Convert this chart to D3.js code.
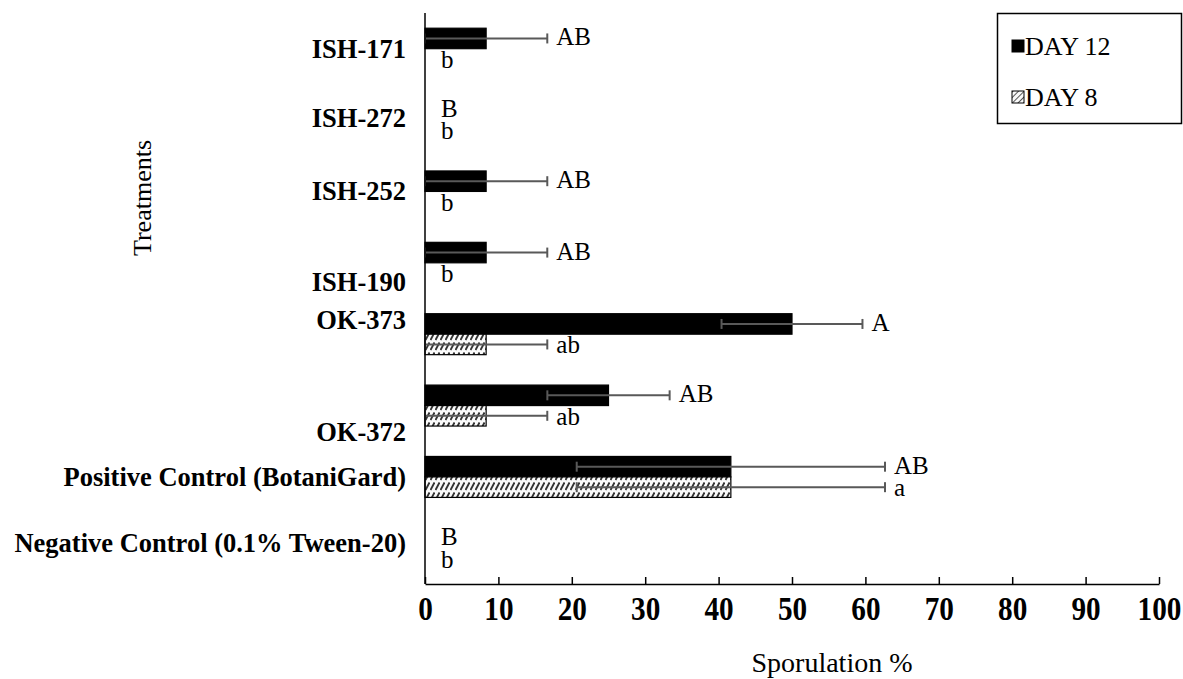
<!DOCTYPE html>
<html>
<head>
<meta charset="utf-8">
<script src="https://cdnjs.cloudflare.com/ajax/libs/d3/7.8.5/d3.min.js"></script>
<style>
    body { margin: 0; background: #fff; }
    text { font-family: "Liberation Serif", "Times New Roman", serif; fill: #000; }
</style>
</head>
<body>
<div id="chart"></div>
<script>
// treatments, top to bottom as drawn
var treatments = ["ISH-171", "ISH-272", "ISH-252", "ISH-190", "OK-373", "OK-372",
    "Positive Control (BotaniGard)", "Negative Control (0.1% Tween-20)"];

var series = ["DAY 12", "DAY 8"];

var day12 = [8.33, 0, 8.33, 8.33, 50, 25, 41.67, 0];
var day8 = [0, 0, 0, 0, 8.33, 8.33, 41.67, 0];

var day12Err = [8.33, 0, 8.33, 8.33, 9.6, 8.33, 21, 0];
var day8Err = [0, 0, 0, 0, 8.33, 8.33, 21, 0];

var day12Letters = ["AB", "B", "AB", "AB", "A", "AB", "AB", "B"];
var day8Letters = ["b", "b", "b", "b", "ab", "ab", "a", "b"];

var xTicks = [0, 10, 20, 30, 40, 50, 60, 70, 80, 90, 100];

// the category labels were not set exactly on the band centres
var labelShift = [0, -2, -1, 19, -14, 26, 0, -6];

var width = 1183,
    height = 679,
    margin = { top: 13, right: 23, bottom: 95, left: 425 };

var svg = d3.select('#chart')
    .append('svg')
    .attr('width', width)
    .attr('height', height);

/* hatch: rows of short slanted dashes */
var defs = svg.append('defs');
var hatch = defs.append('pattern')
    .attr('id', 'hatch')
    .attr('patternUnits', 'userSpaceOnUse')
    .attr('width', 5)
    .attr('height', 10)
    .attr('y', 1);
hatch.append('rect').attr('width', 5).attr('height', 10).attr('fill', '#fafafa');
hatch.append('line')
    .attr('x1', 0.5).attr('y1', 9).attr('x2', 4.5).attr('y2', 1.5)
    .attr('stroke', '#333').attr('stroke-width', 1.9);

var swatch = defs.append('pattern')
    .attr('id', 'swatch')
    .attr('patternUnits', 'userSpaceOnUse')
    .attr('width', 4)
    .attr('height', 4)
    .attr('patternTransform', 'rotate(45)');
swatch.append('rect').attr('width', 4).attr('height', 4).attr('fill', '#fafafa');
swatch.append('line')
    .attr('x1', 0).attr('y1', 0).attr('x2', 0).attr('y2', 4)
    .attr('stroke', '#444').attr('stroke-width', 1.8);

var x = d3.scaleLinear()
    .domain([0, 100])
    .range([margin.left, width - margin.right - 1]);

var y = d3.scaleBand()
    .domain(treatments)
    .range([margin.top, height - margin.bottom])
    .paddingInner(0.426)
    .paddingOuter(0.213);

var ySub = d3.scaleBand()
    .domain(series)
    .range([0, y.bandwidth()]);

var fills = { "DAY 12": "#000", "DAY 8": "url(#hatch)" };
var swatches = { "DAY 12": "#000", "DAY 8": "url(#swatch)" };

var rows = [];
treatments.forEach(function(t, i) {
    rows.push({ t: t, s: "DAY 12", v: day12[i], e: day12Err[i], l: day12Letters[i] });
    rows.push({ t: t, s: "DAY 8", v: day8[i], e: day8Err[i], l: day8Letters[i] });
});

var yc = function(d) { return y(d.t) + ySub(d.s) + ySub.bandwidth() / 2; };

/* bars */
svg.append('g')
    .selectAll('rect')
    .data(rows)
    .enter().append('rect')
    .attr('x', x(0))
    .attr('y', function(d) { return y(d.t) + ySub(d.s); })
    .attr('width', function(d) { return x(d.v) - x(0); })
    .attr('height', ySub.bandwidth())
    .attr('fill', function(d) { return fills[d.s]; })
    .attr('stroke', '#000')
    .attr('stroke-width', 1.2);

/* error bars */
var err = svg.append('g')
    .attr('stroke', '#595959')
    .attr('stroke-width', 2)
    .selectAll('g')
    .data(rows.filter(function(d) { return d.e > 0; }))
    .enter().append('g');

err.append('line')
    .attr('x1', function(d) { return x(d.v - d.e); })
    .attr('x2', function(d) { return x(d.v + d.e); })
    .attr('y1', yc)
    .attr('y2', yc);
err.append('line')
    .attr('x1', function(d) { return x(d.v - d.e); })
    .attr('x2', function(d) { return x(d.v - d.e); })
    .attr('y1', function(d) { return yc(d) - 5; })
    .attr('y2', function(d) { return yc(d) + 5; });
err.append('line')
    .attr('x1', function(d) { return x(d.v + d.e); })
    .attr('x2', function(d) { return x(d.v + d.e); })
    .attr('y1', function(d) { return yc(d) - 5; })
    .attr('y2', function(d) { return yc(d) + 5; });

/* significance letters */
svg.append('g')
    .selectAll('text')
    .data(rows)
    .enter().append('text')
    .attr('x', function(d) { return x(d.v + d.e) + (d.v + d.e > 0 ? 9 : 16); })
    .attr('y', function(d) { return yc(d) + (d.s === "DAY 12" ? 7 : 9); })
    .style('font-size', '25px')
    .text(function(d) { return d.l; });

/* axes */
var xAxis = d3.axisBottom(x)
    .tickValues(xTicks)
    .tickSizeInner(-7)
    .tickSizeOuter(0)
    .tickPadding(12);

var gx = svg.append('g')
    .attr('transform', 'translate(0,' + (height - margin.bottom) + ')')
    .call(xAxis);
gx.select('.domain').attr('stroke', '#000').attr('stroke-width', 1.5);
gx.selectAll('.tick line').attr('stroke', '#000').attr('stroke-width', 1.5);
gx.selectAll('.tick text')
    .attr('font-family', null)
    .attr('font-size', null)
    .style('font-size', '34px')
    .style('font-weight', 'bold')
    .attr('transform', 'scale(0.86,1)')
    .attr('dy', '0.71em');

svg.append('line')
    .attr('x1', x(0)).attr('x2', x(0))
    .attr('y1', margin.top).attr('y2', height - margin.bottom)
    .attr('stroke', '#000')
    .attr('stroke-width', 1.5);

svg.append('g')
    .selectAll('text')
    .data(treatments)
    .enter().append('text')
    .attr('x', 406)
    .attr('y', function(d, i) { return y(d) + y.bandwidth() / 2 + labelShift[i]; })
    .attr('dy', '0.35em')
    .attr('text-anchor', 'end')
    .style('font-size', '26.5px')
    .style('font-weight', 'bold')
    .text(function(d) { return d; });

/* axis titles */
svg.append('text')
    .attr('transform', 'translate(151,198) rotate(-90)')
    .attr('text-anchor', 'middle')
    .style('font-size', '26px')
    .text('Treatments');

svg.append('text')
    .attr('x', 832)
    .attr('y', 672)
    .attr('text-anchor', 'middle')
    .style('font-size', '28px')
    .text('Sporulation %');

/* legend */
var legend = svg.append('g');
legend.append('rect')
    .attr('x', 997.5).attr('y', 13.5)
    .attr('width', 184).attr('height', 110)
    .attr('fill', '#fff')
    .attr('stroke', '#000')
    .attr('stroke-width', 1.5);

var items = legend.selectAll('g.item')
    .data(series)
    .enter().append('g')
    .attr('class', 'item')
    .attr('transform', function(d, i) { return 'translate(1012,' + (46 + i * 51) + ')'; });

items.append('rect')
    .attr('x', 0).attr('y', -6)
    .attr('width', 12).attr('height', 12)
    .attr('fill', function(d) { return swatches[d]; })
    .attr('stroke', '#000')
    .attr('stroke-width', 1);

items.append('text')
    .attr('x', 13)
    .attr('y', 0)
    .attr('dy', '0.35em')
    .style('font-size', '26px')
    .text(function(d) { return d; });
</script>
</body>
</html>
